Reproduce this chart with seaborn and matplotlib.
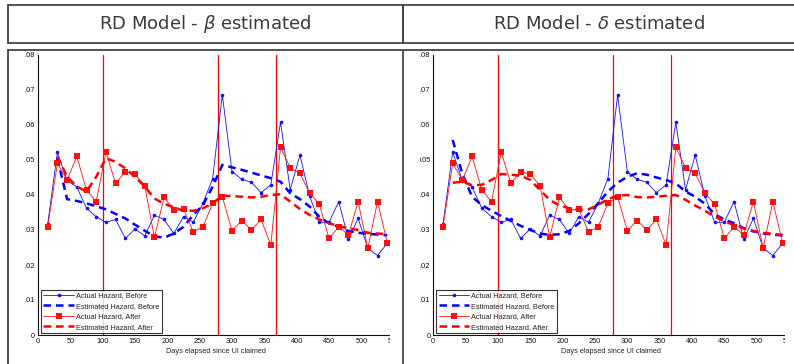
"""
Recreation: hazards before/after, RD model with beta or delta estimated.
"""

import numpy as np
import pandas as pd
import matplotlib
matplotlib.use("Agg")
import matplotlib.pyplot as plt
from matplotlib.patches import Rectangle
import seaborn as sns

# Données
days_actual = [15, 30, 45, 60, 75, 90, 105, 120, 135, 150, 165, 180, 195, 210, 225, 240, 255, 270,
               285, 300, 315, 330, 345, 360, 375, 390, 405, 420, 435, 450, 465, 480, 495, 510, 525, 540]
days_est = days_actual[1:]

actual_before = [0.0317, 0.0522, 0.0441, 0.0423, 0.0362, 0.0338, 0.0322, 0.0330, 0.0276, 0.0303,
                 0.0283, 0.0342, 0.0330, 0.0290, 0.0338, 0.0322, 0.0376, 0.0447, 0.0686, 0.0467,
                 0.0445, 0.0436, 0.0407, 0.0429, 0.0608, 0.0415, 0.0514, 0.0397, 0.0322, 0.0322,
                 0.0381, 0.0274, 0.0333, 0.0248, 0.0227, 0.0262]
actual_after = [0.0309, 0.0490, 0.0443, 0.0510, 0.0414, 0.0381, 0.0522, 0.0433, 0.0467, 0.0459,
                0.0427, 0.0279, 0.0393, 0.0357, 0.0359, 0.0295, 0.0309, 0.0376, 0.0395, 0.0298,
                0.0327, 0.0300, 0.0330, 0.0257, 0.0536, 0.0478, 0.0462, 0.0405, 0.0374, 0.0276,
                0.0309, 0.0286, 0.0381, 0.0248, 0.0381, 0.0264]

# beta estimé
est_before_beta = [0.0505, 0.0388, 0.0383, 0.0376, 0.0368, 0.0359, 0.0346, 0.0333, 0.0315, 0.0298,
                   0.0282, 0.0278, 0.0290, 0.0309, 0.0343, 0.0371, 0.0424, 0.0486, 0.0479, 0.0472,
                   0.0464, 0.0456, 0.0448, 0.0438, 0.0405, 0.0388, 0.0367, 0.0338, 0.0319, 0.0309,
                   0.0297, 0.0292, 0.0289, 0.0287, 0.0285]
est_after_beta = [0.0510, 0.0452, 0.0424, 0.0410, 0.0452, 0.0505, 0.0495, 0.0476, 0.0452, 0.0424,
                  0.0390, 0.0375, 0.0365, 0.0355, 0.0355, 0.0362, 0.0376, 0.0398, 0.0397, 0.0395,
                  0.0393, 0.0395, 0.0400, 0.0402, 0.0381, 0.0360, 0.0343, 0.0330, 0.0319, 0.0311,
                  0.0305, 0.0300, 0.0292, 0.0290, 0.0288]

# delta estimé
est_before_delta = [0.0557, 0.0460, 0.0395, 0.0371, 0.0355, 0.0340, 0.0326, 0.0312, 0.0300, 0.0290,
                    0.0286, 0.0288, 0.0297, 0.0319, 0.0346, 0.0376, 0.0410, 0.0435, 0.0452, 0.0462,
                    0.0458, 0.0450, 0.0443, 0.0433, 0.0410, 0.0395, 0.0375, 0.0345, 0.0330, 0.0319,
                    0.0305, 0.0296, 0.0290, 0.0287, 0.0284]
est_after_delta = [0.0435, 0.0438, 0.0428, 0.0429, 0.0443, 0.0460, 0.0458, 0.0455, 0.0443, 0.0414,
                   0.0386, 0.0370, 0.0362, 0.0357, 0.0359, 0.0372, 0.0388, 0.0398, 0.0400, 0.0394,
                   0.0393, 0.0395, 0.0398, 0.0400, 0.0386, 0.0370, 0.0355, 0.0338, 0.0325, 0.0314,
                   0.0305, 0.0297, 0.0292, 0.0289, 0.0286]

cutoffs = [100, 278, 368]
panel_titles = [r"RD Model - $\beta$ estimated", r"RD Model - $\delta$ estimated"]
legend_labels = ["Actual Hazard, Before", "Estimated Hazard, Before",
                 "Actual Hazard, After", "Estimated Hazard, After"]
x_ticks = list(range(0, 551, 50))
y_ticks = [0, 0.01, 0.02, 0.03, 0.04, 0.05, 0.06, 0.07, 0.08]
y_ticklabels = ["0", "0.01", "0.02", "0.03", "0.04", "0.05", "0.06", "0.07", "0.08"]

sns.set_style("white")
plt.rcParams["font.family"] = ["Liberation Sans", "DejaVu Sans"]
plt.rcParams["mathtext.fontset"] = "dejavusans"

W, H = 794, 364
fig = plt.figure(figsize=(W / 100, H / 100), dpi=100)


def px_axes(x0, y_top, x1, y_bot, **kw):
    """Axes placée en pixels (origine en haut à gauche)."""
    return fig.add_axes([x0 / W, 1 - y_bot / H, (x1 - x0) / W, (y_bot - y_top) / H], **kw)


def draw_panel(ax, est_before, est_after):
    for c in cutoffs:
        ax.axvline(c, color="red", lw=0.9, zorder=1)
    sns.lineplot(x=days_actual, y=actual_before, ax=ax, color="#1010ff", lw=0.6,
                 marker="o", markersize=2.6, markeredgewidth=0, label=legend_labels[0])
    sns.lineplot(x=days_est, y=est_before, ax=ax, color="#0000ff", lw=1.8,
                 linestyle=(0, (3, 2)), label=legend_labels[1])
    sns.lineplot(x=days_actual, y=actual_after, ax=ax, color="#ff1010", lw=0.6,
                 marker="s", markersize=3.7, markeredgewidth=0, label=legend_labels[2])
    sns.lineplot(x=days_est, y=est_after, ax=ax, color="#ff0000", lw=1.8,
                 linestyle=(0, (3, 2)), label=legend_labels[3])

    ax.set_xlim(0, 550)
    ax.set_ylim(0, 0.08)
    ax.set_xticks(x_ticks)
    ax.set_yticks(y_ticks)
    ax.set_yticklabels(y_ticklabels)
    ax.tick_params(direction="in", length=2.5, width=0.6, labelsize=5.3, pad=2,
                   colors="#111111")
    for s in ["top", "right"]:
        ax.spines[s].set_visible(False)
    for s in ["left", "bottom"]:
        ax.spines[s].set_color("#111111")
        ax.spines[s].set_linewidth(0.8)
    ax.set_xlabel("Days elapsed since UI claimed", fontsize=5.3, labelpad=2)
    ax.set_ylabel("")
    leg = ax.legend(loc="lower left", bbox_to_anchor=(0.008, 0.006), borderaxespad=0,
                    fontsize=5.3, handlelength=4.1, labelspacing=0.45, borderpad=0.35,
                    handletextpad=0.3, frameon=True, fancybox=False)
    leg.get_frame().set_edgecolor("black")
    leg.get_frame().set_linewidth(0.8)
    ax.patch.set_visible(False)


ax_left = px_axes(38, 55, 393.7, 335)
draw_panel(ax_left, est_before_beta, est_after_beta)
ax_right = px_axes(433.3, 55, 789, 335)
draw_panel(ax_right, est_before_delta, est_after_delta)

# Calque du cadre de la diapositive (masques, cadres, titres)
ov = fig.add_axes([0, 0, 1, 1], zorder=10)
ov.set_xlim(0, W)
ov.set_ylim(H, 0)
ov.axis("off")
ov.patch.set_visible(False)

for (x0, x1) in [(9, 24.5), (389.5, 402.5), (404, 419.5), (784.5, 794)]:
    ov.add_patch(Rectangle((x0, 51), x1 - x0, H - 51, facecolor="white", edgecolor="none"))

box_color = "#444444"
ov.add_patch(Rectangle((8, 5), 395, 38, facecolor="none", edgecolor=box_color, lw=1.3))
ov.add_patch(Rectangle((403, 5), 400, 38, facecolor="none", edgecolor=box_color, lw=1.3))
ov.plot([8, W], [50, 50], color=box_color, lw=1.3)
ov.plot([8, 8], [50, H], color=box_color, lw=1.3)
ov.plot([403, 403], [50, H], color=box_color, lw=1.3)

for cx, title in zip([205.5, 599], panel_titles):
    ov.text(cx, 24, title, ha="center", va="center", fontsize=13,
            family=["DejaVu Sans"], color="#3a3a3a")

fig.savefig("out.png", dpi=100)
plt.close(fig)
